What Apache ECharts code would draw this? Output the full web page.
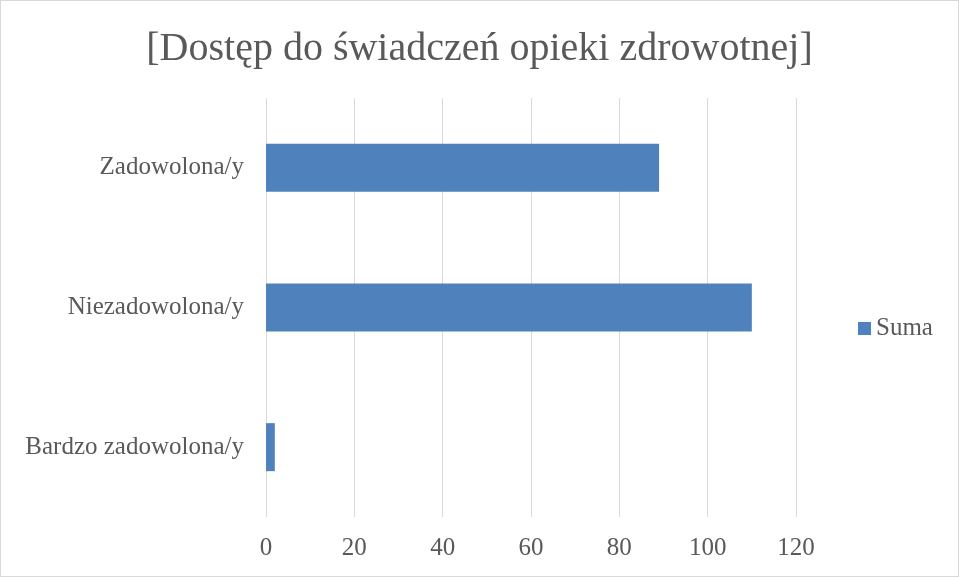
<!DOCTYPE html>
<html>
<head>
<meta charset="utf-8">
<script src="https://cdn.jsdelivr.net/npm/echarts@6/dist/echarts.min.js"></script>
<style>
  html, body { margin: 0; padding: 0; background: #fff; }
  #chart { width: 957px; height: 575px; border: 1px solid #d9d9d9; }
</style>
</head>
<body>
<div id="chart"></div>
<script>
// dane z wykresu
const categories = ['Bardzo zadowolona/y', 'Niezadowolona/y', 'Zadowolona/y'];
const sumaValues = [2, 110, 89];
const xTicks = [0, 20, 40, 60, 80, 100, 120];

const FONT = '"Liberation Serif", "DejaVu Serif", serif';
const TEXT = '#595959';

const myChart = echarts.init(document.getElementById('chart'));
myChart.setOption({
    animation: false,
    textStyle: { fontFamily: FONT },
    title: {
        text: '[Dostęp do świadczeń opieki zdrowotnej]',
        left: 'center',
        top: 23,
        textStyle: { fontFamily: FONT, fontSize: 40, fontWeight: 'normal', color: TEXT }
    },
    legend: {
        data: ['Suma'],
        orient: 'vertical',
        left: 852,
        top: 310,
        itemWidth: 13,
        itemHeight: 13,
        itemGap: 5,
        icon: 'rect',
        textStyle: { fontFamily: FONT, fontSize: 25, color: TEXT }
    },
    grid: { left: 265, top: 97, width: 530, height: 419, containLabel: false },
    xAxis: {
        type: 'value',
        min: xTicks[0],
        max: xTicks[xTicks.length - 1],
        interval: 20,
        axisLine: { show: false },
        axisTick: { show: false },
        axisLabel: { fontFamily: FONT, fontSize: 25, color: TEXT, margin: 19 },
        splitLine: { lineStyle: { color: '#d9d9d9', width: 1 } }
    },
    yAxis: {
        type: 'category',
        data: categories,
        axisLine: { show: false },
        axisTick: { show: false },
        axisLabel: { fontFamily: FONT, fontSize: 25, color: TEXT, margin: 22 }
    },
    series: [{
        name: 'Suma',
        type: 'bar',
        data: sumaValues,
        barWidth: 48,
        itemStyle: { color: '#4f81bd' }
    }]
});
</script>
</body>
</html>
